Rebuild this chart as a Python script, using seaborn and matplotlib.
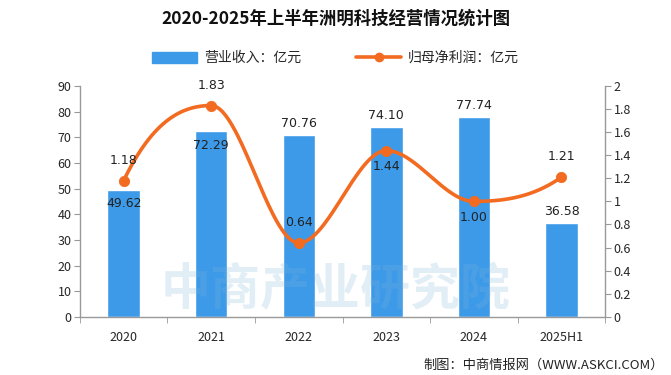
import matplotlib
matplotlib.use("Agg")
import matplotlib.pyplot as plt
import numpy as np
import pandas as pd
import seaborn as sns
from matplotlib.patches import Patch
from matplotlib.lines import Line2D

# 数据
years = ["2020", "2021", "2022", "2023", "2024", "2025H1"]
revenue = [49.62, 72.29, 70.76, 74.10, 77.74, 36.58]
net_profit = [1.18, 1.83, 0.64, 1.44, 1.00, 1.21]
rev_label_inside = [True, True, False, False, False, False]
profit_label_below = [False, False, False, True, True, False]

bar_color = "#3d9ae8"
line_color = "#f26b21"

sns.set_style("white")
plt.rcParams["font.family"] = ["Noto Sans CJK SC", "DejaVu Sans"]
plt.rcParams["axes.unicode_minus"] = False


def pchip(x, y, xs):
    """单调三次插值，仅用于把折线画得平滑"""
    x = np.asarray(x, float)
    y = np.asarray(y, float)
    h = np.diff(x)
    delta = np.diff(y) / h
    n = len(x)
    d = np.zeros(n)
    for k in range(1, n - 1):
        if delta[k - 1] * delta[k] > 0:
            w1 = 2 * h[k] + h[k - 1]
            w2 = h[k] + 2 * h[k - 1]
            d[k] = (w1 + w2) / (w1 / delta[k - 1] + w2 / delta[k])

    def end(h0, h1, d0, d1):
        s = ((2 * h0 + h1) * d0 - h0 * d1) / (h0 + h1)
        if np.sign(s) != np.sign(d0):
            return 0.0
        if np.sign(d0) != np.sign(d1) and abs(s) > 3 * abs(d0):
            return 3 * d0
        return s

    d[0] = end(h[0], h[1], delta[0], delta[1])
    d[-1] = end(h[-1], h[-2], delta[-1], delta[-2])
    out = np.empty_like(xs)
    for j, t in enumerate(xs):
        i = min(max(np.searchsorted(x, t) - 1, 0), n - 2)
        s = (t - x[i]) / h[i]
        h00 = 2 * s ** 3 - 3 * s ** 2 + 1
        h10 = s ** 3 - 2 * s ** 2 + s
        h01 = -2 * s ** 3 + 3 * s ** 2
        h11 = s ** 3 - s ** 2
        out[j] = h00 * y[i] + h10 * h[i] * d[i] + h01 * y[i + 1] + h11 * h[i] * d[i + 1]
    return out


df = pd.DataFrame({"year": years, "revenue": revenue, "profit": net_profit})

fig = plt.figure(figsize=(6.71, 3.75), dpi=100)
ax = fig.add_axes([0.119, 0.155, 0.783, 0.616])

# 水印
fig.text(0.50, 0.225, "中商产业研究院", fontsize=36, color="#7fb3d8",
         alpha=0.22, ha="center", va="center", fontweight="bold", zorder=0)

sns.barplot(data=df, x="year", y="revenue", color=bar_color, width=0.37,
            saturation=1, ax=ax, zorder=2)
ax.set_ylim(0, 90)
ax.set_yticks(range(0, 91, 10))
ax.set_xlim(-0.5, len(years) - 0.5)
ax.set_xlabel("")
ax.set_ylabel("")

for i, v in enumerate(revenue):
    if rev_label_inside[i]:
        ax.text(i, v - 3, f"{v:.2f}", ha="center", va="top", fontsize=9,
                family="DejaVu Sans", color="#222222", zorder=5)
    else:
        ax.text(i, v + 2, f"{v:.2f}", ha="center", va="bottom", fontsize=9,
                family="DejaVu Sans", color="#222222", zorder=5)

ax2 = ax.twinx()
xs = np.linspace(0, len(years) - 1, 300)
ax2.plot(xs, pchip(range(len(years)), net_profit, xs),
         color=line_color, lw=2.6, zorder=4)
sns.scatterplot(x=list(range(len(years))), y=net_profit, color=line_color,
                s=55, edgecolor=line_color, ax=ax2, zorder=5)
ax2.set_ylim(0, 2)
ax2.set_yticks(np.arange(0, 2.01, 0.2))
ax2.set_yticklabels(["0", "0.2", "0.4", "0.6", "0.8", "1",
                     "1.2", "1.4", "1.6", "1.8", "2"])

for i, v in enumerate(net_profit):
    if profit_label_below[i]:
        ax2.text(i, v - 0.08, f"{v:.2f}", ha="center", va="top", fontsize=9,
                 family="DejaVu Sans", color="#222222", zorder=6)
    else:
        ax2.text(i, v + 0.12, f"{v:.2f}", ha="center", va="bottom", fontsize=9,
                 family="DejaVu Sans", color="#222222", zorder=6)

# 坐标轴样式
for a in (ax, ax2):
    for side in ("left", "right", "bottom", "top"):
        a.spines[side].set_color("#999999")
        a.spines[side].set_linewidth(1)
    a.spines["top"].set_visible(False)
ax.spines["right"].set_visible(False)
ax2.spines["left"].set_visible(False)
ax2.spines["bottom"].set_visible(False)

ax.tick_params(axis="y", length=4, color="#999999", labelsize=9, pad=2,
               left=True)
ax2.tick_params(axis="y", length=4, color="#999999", labelsize=9, pad=2,
                right=True)
ax.set_xticks(range(len(years)))
ax.set_xticklabels(years)
ax.tick_params(axis="x", length=0, labelsize=9, pad=10)
ax.set_xticks(np.arange(-0.5, len(years), 1), minor=True)
ax.tick_params(axis="x", which="minor", length=4, color="#999999",
               bottom=True)

fig.text(0.5, 0.950, "2020-2025年上半年洲明科技经营情况统计图",
         ha="center", va="center", fontsize=12.5, fontweight="bold",
         color="#111111")

handles = [Patch(facecolor=bar_color, edgecolor=bar_color),
           Line2D([0], [0], color=line_color, lw=2.6, marker="o",
                  markersize=6)]
fig.legend(handles, ["营业收入：亿元", "归母净利润：亿元"], loc="center",
           bbox_to_anchor=(0.5, 0.845), ncol=2, frameon=False, fontsize=10,
           handlelength=3.2, handleheight=0.9, columnspacing=4,
           handletextpad=0.5)

fig.text(0.99, 0.027, "制图：中商情报网（WWW.ASKCI.COM）", ha="right",
         va="center", fontsize=9.5, color="#222222")

fig.savefig("out.png", dpi=100)
